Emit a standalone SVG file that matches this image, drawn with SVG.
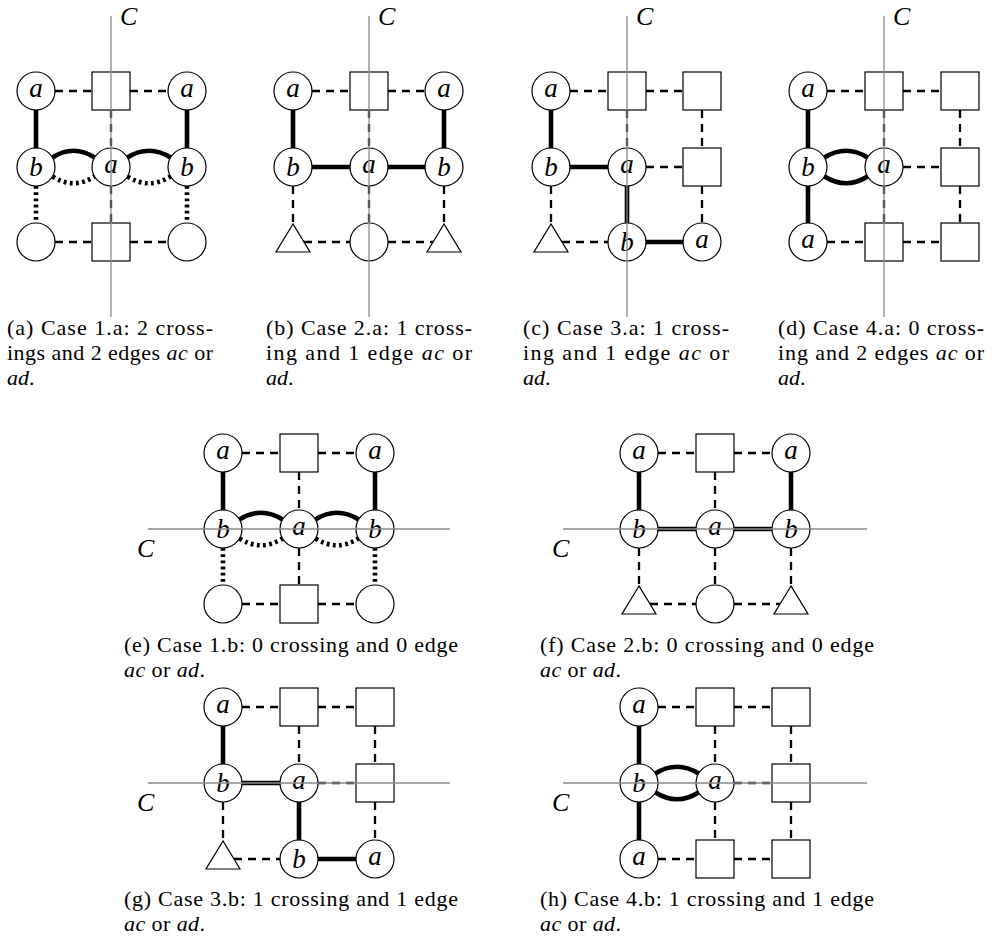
<svg xmlns="http://www.w3.org/2000/svg" width="992" height="941" viewBox="0 0 992 941">
<style>
.c{fill:#fff;stroke:#000;stroke-width:1.2}
.s{fill:#fff;stroke:#000;stroke-width:1.2}
.th{fill:none;stroke:#000;stroke-width:4.6}
.da{fill:none;stroke:#000;stroke-width:2.3;stroke-dasharray:8 6}
.do{fill:none;stroke:#000;stroke-width:4.6;stroke-dasharray:2.8 3.4}
.cl{stroke:#8a8a8a;stroke-width:1.3}
.l{font-family:"Liberation Serif",serif;font-style:italic;font-size:27px;text-anchor:middle}
.C{font-family:"Liberation Serif",serif;font-style:italic;font-size:26px}
.cap{font-family:"Liberation Serif",serif;font-size:22px}
.i{font-style:italic}
</style>
<rect width="992" height="941" fill="#fff"/>
<g id="connectors">
<!-- (a) -->
<line class="th" x1="36" y1="91" x2="36" y2="167"/><line class="th" x1="187" y1="91" x2="187" y2="167"/>
<path class="th" d="M52.5 157.5Q73.5 144 94.5 157.5"/><path class="th" d="M127.5 157.5Q149 144 170.5 157.5"/>
<path class="do" d="M52.5 176.5Q73.5 190 94.5 176.5"/><path class="do" d="M127.5 176.5Q149 190 170.5 176.5"/>
<line class="do" x1="36" y1="186" x2="36" y2="223"/><line class="do" x1="187" y1="186" x2="187" y2="223"/>
<line class="da" x1="55" y1="91" x2="92" y2="91"/><line class="da" x1="130" y1="91" x2="168" y2="91"/>
<line class="da" x1="55" y1="242" x2="92" y2="242"/><line class="da" x1="130" y1="242" x2="168" y2="242"/>
<line class="da" x1="111" y1="110" x2="111" y2="148"/><line class="da" x1="111" y1="186" x2="111" y2="223"/>
<!-- (b) -->
<line class="th" x1="293" y1="91" x2="293" y2="167"/><line class="th" x1="444" y1="91" x2="444" y2="167"/>
<line class="th" x1="293" y1="167" x2="444" y2="167"/>
<line class="da" x1="312" y1="91" x2="350" y2="91"/><line class="da" x1="388" y1="91" x2="425" y2="91"/>
<line class="da" x1="369" y1="110" x2="369" y2="148"/><line class="da" x1="369" y1="186" x2="369" y2="223"/>
<line class="da" x1="293" y1="186" x2="293" y2="224"/><line class="da" x1="444" y1="186" x2="444" y2="224"/>
<line class="da" x1="304" y1="242" x2="350" y2="242"/><line class="da" x1="388" y1="242" x2="433" y2="242"/>
<!-- (c) -->
<line class="th" x1="551" y1="91" x2="551" y2="167"/><line class="th" x1="551" y1="167" x2="627" y2="167"/>
<line class="th" x1="627" y1="167" x2="627" y2="242"/><line class="th" x1="627" y1="242" x2="702" y2="242"/>
<line class="da" x1="570" y1="91" x2="608" y2="91"/><line class="da" x1="646" y1="91" x2="683" y2="91"/>
<line class="da" x1="627" y1="110" x2="627" y2="148"/><line class="da" x1="646" y1="167" x2="683" y2="167"/>
<line class="da" x1="702" y1="110" x2="702" y2="148"/><line class="da" x1="702" y1="186" x2="702" y2="223"/>
<line class="da" x1="551" y1="186" x2="551" y2="224"/><line class="da" x1="562" y1="242" x2="608" y2="242"/>
<!-- (d) -->
<line class="th" x1="808" y1="91" x2="808" y2="242"/>
<path class="th" d="M824.5 157.5Q846 144 867.5 157.5"/><path class="th" d="M824.5 176.5Q846 190 867.5 176.5"/>
<line class="da" x1="827" y1="91" x2="865" y2="91"/><line class="da" x1="903" y1="91" x2="941" y2="91"/>
<line class="da" x1="884" y1="110" x2="884" y2="148"/><line class="da" x1="884" y1="186" x2="884" y2="223"/>
<line class="da" x1="903" y1="167" x2="941" y2="167"/>
<line class="da" x1="960" y1="110" x2="960" y2="148"/><line class="da" x1="960" y1="186" x2="960" y2="223"/>
<line class="da" x1="827" y1="242" x2="865" y2="242"/><line class="da" x1="903" y1="242" x2="941" y2="242"/>
<!-- (e) -->
<line class="th" x1="223" y1="453" x2="223" y2="529"/><line class="th" x1="375" y1="453" x2="375" y2="529"/>
<path class="th" d="M239.5 519.5Q261 506 282.5 519.5"/><path class="th" d="M315.5 519.5Q337 506 358.5 519.5"/>
<path class="do" d="M239.5 538.5Q261 552 282.5 538.5"/><path class="do" d="M315.5 538.5Q337 552 358.5 538.5"/>
<line class="do" x1="223" y1="548" x2="223" y2="585"/><line class="do" x1="375" y1="548" x2="375" y2="585"/>
<line class="da" x1="242" y1="453" x2="280" y2="453"/><line class="da" x1="318" y1="453" x2="356" y2="453"/>
<line class="da" x1="242" y1="604" x2="280" y2="604"/><line class="da" x1="318" y1="604" x2="356" y2="604"/>
<line class="da" x1="299" y1="472" x2="299" y2="510"/><line class="da" x1="299" y1="548" x2="299" y2="585"/>
<!-- (f) -->
<line class="th" x1="639" y1="453" x2="639" y2="529"/><line class="th" x1="791" y1="453" x2="791" y2="529"/>
<line class="th" x1="639" y1="529" x2="791" y2="529"/>
<line class="da" x1="658" y1="453" x2="696" y2="453"/><line class="da" x1="734" y1="453" x2="772" y2="453"/>
<line class="da" x1="715" y1="472" x2="715" y2="510"/><line class="da" x1="715" y1="548" x2="715" y2="585"/>
<line class="da" x1="639" y1="548" x2="639" y2="586"/><line class="da" x1="791" y1="548" x2="791" y2="586"/>
<line class="da" x1="650" y1="604" x2="696" y2="604"/><line class="da" x1="734" y1="604" x2="780" y2="604"/>
<!-- (g) -->
<line class="th" x1="223" y1="707" x2="223" y2="783"/><line class="th" x1="223" y1="783" x2="299" y2="783"/>
<line class="th" x1="299" y1="783" x2="299" y2="859"/><line class="th" x1="299" y1="859" x2="375" y2="859"/>
<line class="da" x1="242" y1="707" x2="280" y2="707"/><line class="da" x1="318" y1="707" x2="356" y2="707"/>
<line class="da" x1="299" y1="726" x2="299" y2="764"/><line class="da" x1="318" y1="783" x2="356" y2="783"/>
<line class="da" x1="375" y1="726" x2="375" y2="764"/><line class="da" x1="375" y1="802" x2="375" y2="840"/>
<line class="da" x1="223" y1="802" x2="223" y2="841"/><line class="da" x1="234" y1="859" x2="280" y2="859"/>
<!-- (h) -->
<line class="th" x1="639" y1="707" x2="639" y2="859"/>
<path class="th" d="M655.5 773.5Q677 760 698.5 773.5"/><path class="th" d="M655.5 792.5Q677 806 698.5 792.5"/>
<line class="da" x1="658" y1="707" x2="696" y2="707"/><line class="da" x1="734" y1="707" x2="772" y2="707"/>
<line class="da" x1="715" y1="726" x2="715" y2="764"/><line class="da" x1="715" y1="802" x2="715" y2="840"/>
<line class="da" x1="734" y1="783" x2="772" y2="783"/>
<line class="da" x1="791" y1="726" x2="791" y2="764"/><line class="da" x1="791" y1="802" x2="791" y2="840"/>
<line class="da" x1="658" y1="859" x2="696" y2="859"/><line class="da" x1="734" y1="859" x2="772" y2="859"/>
</g>
<!-- nodes (a) -->
<g id="a1"><circle class="c" cx="36" cy="91" r="19"/><text class="l" x="36" y="97">a</text></g>
<g id="a2"><rect class="s" x="92" y="72" width="38" height="38"/></g>
<g id="a3"><circle class="c" cx="187" cy="91" r="19"/><text class="l" x="187" y="97">a</text></g>
<g id="a4"><circle class="c" cx="36" cy="167" r="19"/><text class="l" x="36" y="176">b</text></g>
<g id="a5"><circle class="c" cx="111" cy="167" r="19"/><text class="l" x="111" y="173">a</text></g>
<g id="a6"><circle class="c" cx="187" cy="167" r="19"/><text class="l" x="187" y="176">b</text></g>
<g id="a7"><circle class="c" cx="36" cy="242" r="19"/></g>
<g id="a8"><rect class="s" x="92" y="223" width="38" height="38"/></g>
<g id="a9"><circle class="c" cx="187" cy="242" r="19"/></g>
<!-- nodes (b) -->
<g id="b1"><circle class="c" cx="293" cy="91" r="19"/><text class="l" x="293" y="97">a</text></g>
<g id="b2"><rect class="s" x="350" y="72" width="38" height="38"/></g>
<g id="b3"><circle class="c" cx="444" cy="91" r="19"/><text class="l" x="444" y="97">a</text></g>
<g id="b4"><circle class="c" cx="293" cy="167" r="19"/><text class="l" x="293" y="176">b</text></g>
<g id="b5"><circle class="c" cx="369" cy="167" r="19"/><text class="l" x="369" y="173">a</text></g>
<g id="b6"><circle class="c" cx="444" cy="167" r="19"/><text class="l" x="444" y="176">b</text></g>
<g id="b7"><polygon class="c" points="293,224 276,252 310,252"/></g>
<g id="b8"><circle class="c" cx="369" cy="242" r="19"/></g>
<g id="b9"><polygon class="c" points="444,224 427,252 461,252"/></g>
<!-- nodes (c) -->
<g id="c1"><circle class="c" cx="551" cy="91" r="19"/><text class="l" x="551" y="97">a</text></g>
<g id="c2"><rect class="s" x="608" y="72" width="38" height="38"/></g>
<g id="c3"><rect class="s" x="683" y="72" width="38" height="38"/></g>
<g id="c4"><circle class="c" cx="551" cy="167" r="19"/><text class="l" x="551" y="176">b</text></g>
<g id="c5"><circle class="c" cx="627" cy="167" r="19"/><text class="l" x="627" y="173">a</text></g>
<g id="c6"><rect class="s" x="683" y="148" width="38" height="38"/></g>
<g id="c7"><polygon class="c" points="551,224 534,252 568,252"/></g>
<g id="c8"><circle class="c" cx="627" cy="242" r="19"/><text class="l" x="627" y="251">b</text></g>
<g id="c9"><circle class="c" cx="702" cy="242" r="19"/><text class="l" x="702" y="248">a</text></g>
<!-- nodes (d) -->
<g id="d1"><circle class="c" cx="808" cy="91" r="19"/><text class="l" x="808" y="97">a</text></g>
<g id="d2"><rect class="s" x="865" y="72" width="38" height="38"/></g>
<g id="d3"><rect class="s" x="941" y="72" width="38" height="38"/></g>
<g id="d4"><circle class="c" cx="808" cy="167" r="19"/><text class="l" x="808" y="176">b</text></g>
<g id="d5"><circle class="c" cx="884" cy="167" r="19"/><text class="l" x="884" y="173">a</text></g>
<g id="d6"><rect class="s" x="941" y="148" width="38" height="38"/></g>
<g id="d7"><circle class="c" cx="808" cy="242" r="19"/><text class="l" x="808" y="248">a</text></g>
<g id="d8"><rect class="s" x="865" y="223" width="38" height="38"/></g>
<g id="d9"><rect class="s" x="941" y="223" width="38" height="38"/></g>
<!-- nodes (e) -->
<g id="e1"><circle class="c" cx="223" cy="453" r="19"/><text class="l" x="223" y="459">a</text></g>
<g id="e2"><rect class="s" x="280" y="434" width="38" height="38"/></g>
<g id="e3"><circle class="c" cx="375" cy="453" r="19"/><text class="l" x="375" y="459">a</text></g>
<g id="e4"><circle class="c" cx="223" cy="529" r="19"/><text class="l" x="223" y="538">b</text></g>
<g id="e5"><circle class="c" cx="299" cy="529" r="19"/><text class="l" x="299" y="535">a</text></g>
<g id="e6"><circle class="c" cx="375" cy="529" r="19"/><text class="l" x="375" y="538">b</text></g>
<g id="e7"><circle class="c" cx="223" cy="604" r="19"/></g>
<g id="e8"><rect class="s" x="280" y="585" width="38" height="38"/></g>
<g id="e9"><circle class="c" cx="375" cy="604" r="19"/></g>
<!-- nodes (f) -->
<g id="f1"><circle class="c" cx="639" cy="453" r="19"/><text class="l" x="639" y="459">a</text></g>
<g id="f2"><rect class="s" x="696" y="434" width="38" height="38"/></g>
<g id="f3"><circle class="c" cx="791" cy="453" r="19"/><text class="l" x="791" y="459">a</text></g>
<g id="f4"><circle class="c" cx="639" cy="529" r="19"/><text class="l" x="639" y="538">b</text></g>
<g id="f5"><circle class="c" cx="715" cy="529" r="19"/><text class="l" x="715" y="535">a</text></g>
<g id="f6"><circle class="c" cx="791" cy="529" r="19"/><text class="l" x="791" y="538">b</text></g>
<g id="f7"><polygon class="c" points="639,586 622,614 656,614"/></g>
<g id="f8"><circle class="c" cx="715" cy="604" r="19"/></g>
<g id="f9"><polygon class="c" points="791,586 774,614 808,614"/></g>
<!-- nodes (g) -->
<g id="g1"><circle class="c" cx="223" cy="707" r="19"/><text class="l" x="223" y="713">a</text></g>
<g id="g2"><rect class="s" x="280" y="688" width="38" height="38"/></g>
<g id="g3"><rect class="s" x="356" y="688" width="38" height="38"/></g>
<g id="g4"><circle class="c" cx="223" cy="783" r="19"/><text class="l" x="223" y="792">b</text></g>
<g id="g5"><circle class="c" cx="299" cy="783" r="19"/><text class="l" x="299" y="789">a</text></g>
<g id="g6"><rect class="s" x="356" y="764" width="38" height="38"/></g>
<g id="g7"><polygon class="c" points="223,841 206,869 240,869"/></g>
<g id="g8"><circle class="c" cx="299" cy="859" r="19"/><text class="l" x="299" y="868">b</text></g>
<g id="g9"><circle class="c" cx="375" cy="859" r="19"/><text class="l" x="375" y="865">a</text></g>
<!-- nodes (h) -->
<g id="h1"><circle class="c" cx="639" cy="707" r="19"/><text class="l" x="639" y="713">a</text></g>
<g id="h2"><rect class="s" x="696" y="688" width="38" height="38"/></g>
<g id="h3"><rect class="s" x="772" y="688" width="38" height="38"/></g>
<g id="h4"><circle class="c" cx="639" cy="783" r="19"/><text class="l" x="639" y="792">b</text></g>
<g id="h5"><circle class="c" cx="715" cy="783" r="19"/><text class="l" x="715" y="789">a</text></g>
<g id="h6"><rect class="s" x="772" y="764" width="38" height="38"/></g>
<g id="h7"><circle class="c" cx="639" cy="859" r="19"/><text class="l" x="639" y="865">a</text></g>
<g id="h8"><rect class="s" x="696" y="840" width="38" height="38"/></g>
<g id="h9"><rect class="s" x="772" y="840" width="38" height="38"/></g>
<!-- cut lines C -->
<g id="cuts">
<line class="cl" x1="111" y1="16" x2="111" y2="317"/>
<line class="cl" x1="369" y1="16" x2="369" y2="317"/>
<line class="cl" x1="627" y1="16" x2="627" y2="317"/>
<line class="cl" x1="884" y1="16" x2="884" y2="317"/>
<line class="cl" x1="148" y1="529" x2="450" y2="529"/>
<line class="cl" x1="563" y1="529" x2="867" y2="529"/>
<line class="cl" x1="148" y1="783" x2="450" y2="783"/>
<line class="cl" x1="563" y1="783" x2="867" y2="783"/>
<text class="C" x="120" y="25">C</text>
<text class="C" x="378" y="25">C</text>
<text class="C" x="636" y="25">C</text>
<text class="C" x="893" y="25">C</text>
<text class="C" x="137" y="557">C</text>
<text class="C" x="552" y="557">C</text>
<text class="C" x="137" y="811">C</text>
<text class="C" x="552" y="811">C</text>
</g>
<!-- captions -->
<g id="captions" class="cap">
<text x="7" y="335" textLength="206" lengthAdjust="spacing">(a) Case 1.a: 2 cross-</text>
<text x="7" y="360" textLength="206" lengthAdjust="spacing">ings and 2 edges <tspan class="i">ac</tspan> or</text>
<text x="7" y="385"><tspan class="i">ad</tspan>.</text>
<text x="266" y="335" textLength="206" lengthAdjust="spacing">(b) Case 2.a: 1 cross-</text>
<text x="266" y="360" textLength="206" lengthAdjust="spacing">ing and 1 edge <tspan class="i">ac</tspan> or</text>
<text x="266" y="385"><tspan class="i">ad</tspan>.</text>
<text x="523" y="335" textLength="206" lengthAdjust="spacing">(c) Case 3.a: 1 cross-</text>
<text x="523" y="360" textLength="206" lengthAdjust="spacing">ing and 1 edge <tspan class="i">ac</tspan> or</text>
<text x="523" y="385"><tspan class="i">ad</tspan>.</text>
<text x="778" y="335" textLength="206" lengthAdjust="spacing">(d) Case 4.a: 0 cross-</text>
<text x="778" y="360" textLength="206" lengthAdjust="spacing">ing and 2 edges <tspan class="i">ac</tspan> or</text>
<text x="778" y="385"><tspan class="i">ad</tspan>.</text>
<text x="124" y="652" textLength="334" lengthAdjust="spacing">(e) Case 1.b: 0 crossing and 0 edge</text>
<text x="124" y="677" textLength="81" lengthAdjust="spacing"><tspan class="i">ac</tspan> or <tspan class="i">ad</tspan>.</text>
<text x="540" y="652" textLength="334" lengthAdjust="spacing">(f) Case 2.b: 0 crossing and 0 edge</text>
<text x="540" y="677" textLength="81" lengthAdjust="spacing"><tspan class="i">ac</tspan> or <tspan class="i">ad</tspan>.</text>
<text x="124" y="906" textLength="334" lengthAdjust="spacing">(g) Case 3.b: 1 crossing and 1 edge</text>
<text x="124" y="931" textLength="81" lengthAdjust="spacing"><tspan class="i">ac</tspan> or <tspan class="i">ad</tspan>.</text>
<text x="540" y="906" textLength="334" lengthAdjust="spacing">(h) Case 4.b: 1 crossing and 1 edge</text>
<text x="540" y="931" textLength="81" lengthAdjust="spacing"><tspan class="i">ac</tspan> or <tspan class="i">ad</tspan>.</text>
</g>
</svg>
